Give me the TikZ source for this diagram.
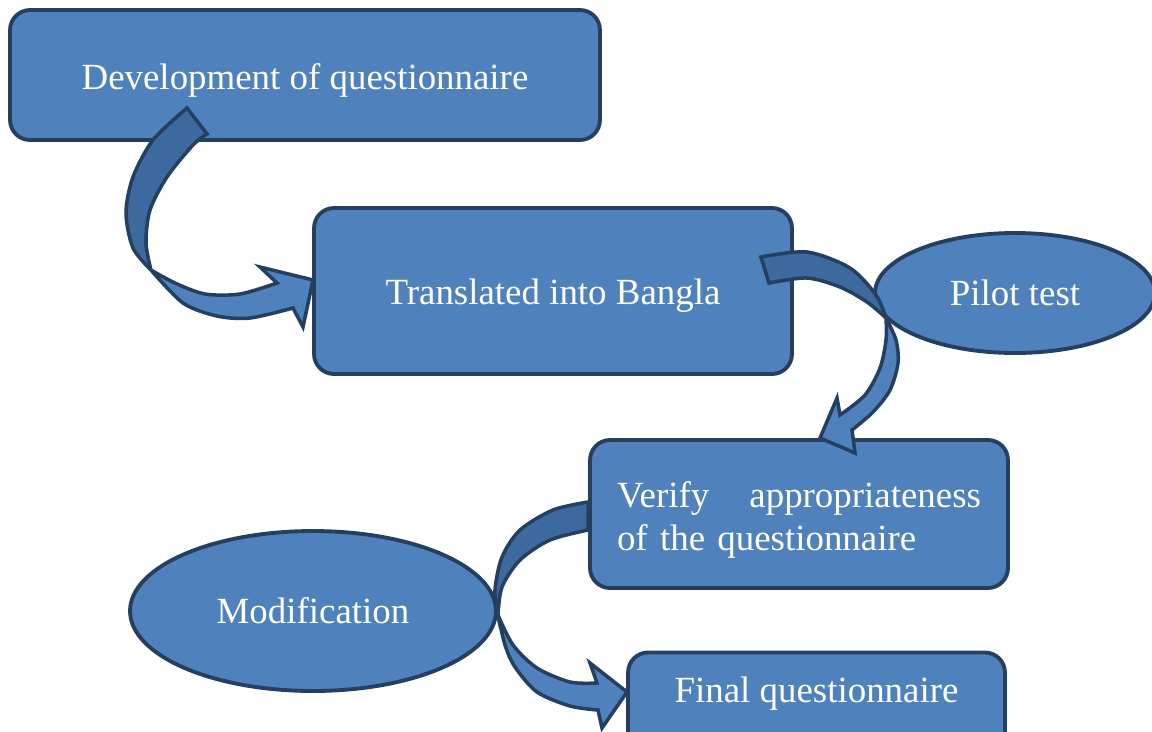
\documentclass[tikz,border=0pt]{standalone}
\usepackage{fontspec}
\setmainfont{Liberation Serif}
\usetikzlibrary{shapes.geometric}
\definecolor{fillb}{HTML}{4F81BD}
\definecolor{edgeb}{HTML}{243F60}
\definecolor{darkb}{HTML}{3D6A9E}
\begin{document}
\begin{tikzpicture}[x=0.02cm,y=-0.02cm,
  txt/.style={text=white,font=\fontsize{21}{24.5}\selectfont,inner sep=0pt},
  box/.style={draw=edgeb,fill=fillb,line width=2.2pt,rounded corners=0.4cm,inner sep=0pt},
  oval/.style={ellipse,draw=edgeb,fill=fillb,line width=2.2pt,txt,inner sep=0pt},
  bandback/.style={draw=edgeb,fill=darkb,line width=2pt,line join=miter},
  bandfront/.style={draw=edgeb,fill=fillb,line width=2pt,line join=miter}]
\useasboundingbox (0,0) rectangle (1152,731);
\clip (0,0) rectangle (1152,731);
% boxes and ovals
\node[box,minimum width=11.8cm,minimum height=2.6cm] (dev) at (305,75) {};
\node[txt] (devtxt) at (305,80) {Development of questionnaire};
\node[box,minimum width=9.56cm,minimum height=3.32cm] (trans) at (553,291) {};
\node[txt] (transtxt) at (553,296) {Translated into Bangla};
\node[oval,minimum width=5.6cm,minimum height=2.4cm] (pilot) at (1015,293) {Pilot test};
\node[box,minimum width=8.36cm,minimum height=2.96cm] (verify) at (799,514) {};
\node[txt,align=left,text width=7.28cm] (verifytxt) at (799,520)
  {\makebox[7.28cm][l]{Verify\hfill appropriateness}\\of the questionnaire};
\node[oval,minimum width=7.32cm,minimum height=3.2cm] (modif) at (313,611) {Modification};
\node[box,minimum width=7.54cm,minimum height=2.1cm] (final) at (816.5,705) {};
\node[txt] (finaltxt) at (816.5,694) {Final questionnaire};
% arrow 1: development -> translated
\filldraw[bandback] plot[smooth] coordinates {(187,108) (153,140) (133,177) (126,213) (133,248) (151,270)}
  -- plot[smooth] coordinates {(151,270) (146,243) (150,210) (167,177) (193,145) (207,134)} -- cycle;
\filldraw[bandfront] plot[smooth] coordinates {(151,270) (183,303) (217,316) (250,318) (293,308)}
  -- (303,327) -- (313,280) -- (260,267)
  -- plot[smooth] coordinates {(277,283) (240,294) (205,294) (175,283) (151,270)} -- cycle;
% arrow 2: translated -> verify (via pilot test)
\filldraw[bandback] plot[smooth] coordinates {(761,257) (807,252) (850,268) (876,295) (886,318)}
  -- plot[smooth] coordinates {(886,318) (867,302) (840,287) (807,278) (769,283)} -- cycle;
\filldraw[bandfront] plot[smooth] coordinates {(886,318) (896,340) (898,363) (890,390) (873,412) (852,430)}
  -- (855,453) -- (820,438) -- (837,398)
  -- plot[smooth] coordinates {(840,415) (865,395) (880,368) (886,340) (886,318)} -- cycle;
% arrow 3: verify -> final (via modification)
\filldraw[bandback] plot[smooth] coordinates {(588,502) (553,510) (520,530) (502,557) (495,590) (498,615)}
  -- plot[smooth] coordinates {(498,615) (502,587) (520,560) (550,540) (588,530)} -- cycle;
\filldraw[bandfront] plot[smooth] coordinates {(498,615) (505,645) (515,667) (537,692) (570,706) (598,710)}
  -- (602,728) -- (627,692) -- (590,663)
  -- plot[smooth] coordinates {(597,683) (570,682) (537,668) (513,645) (498,615)} -- cycle;
\end{tikzpicture}
\end{document}
